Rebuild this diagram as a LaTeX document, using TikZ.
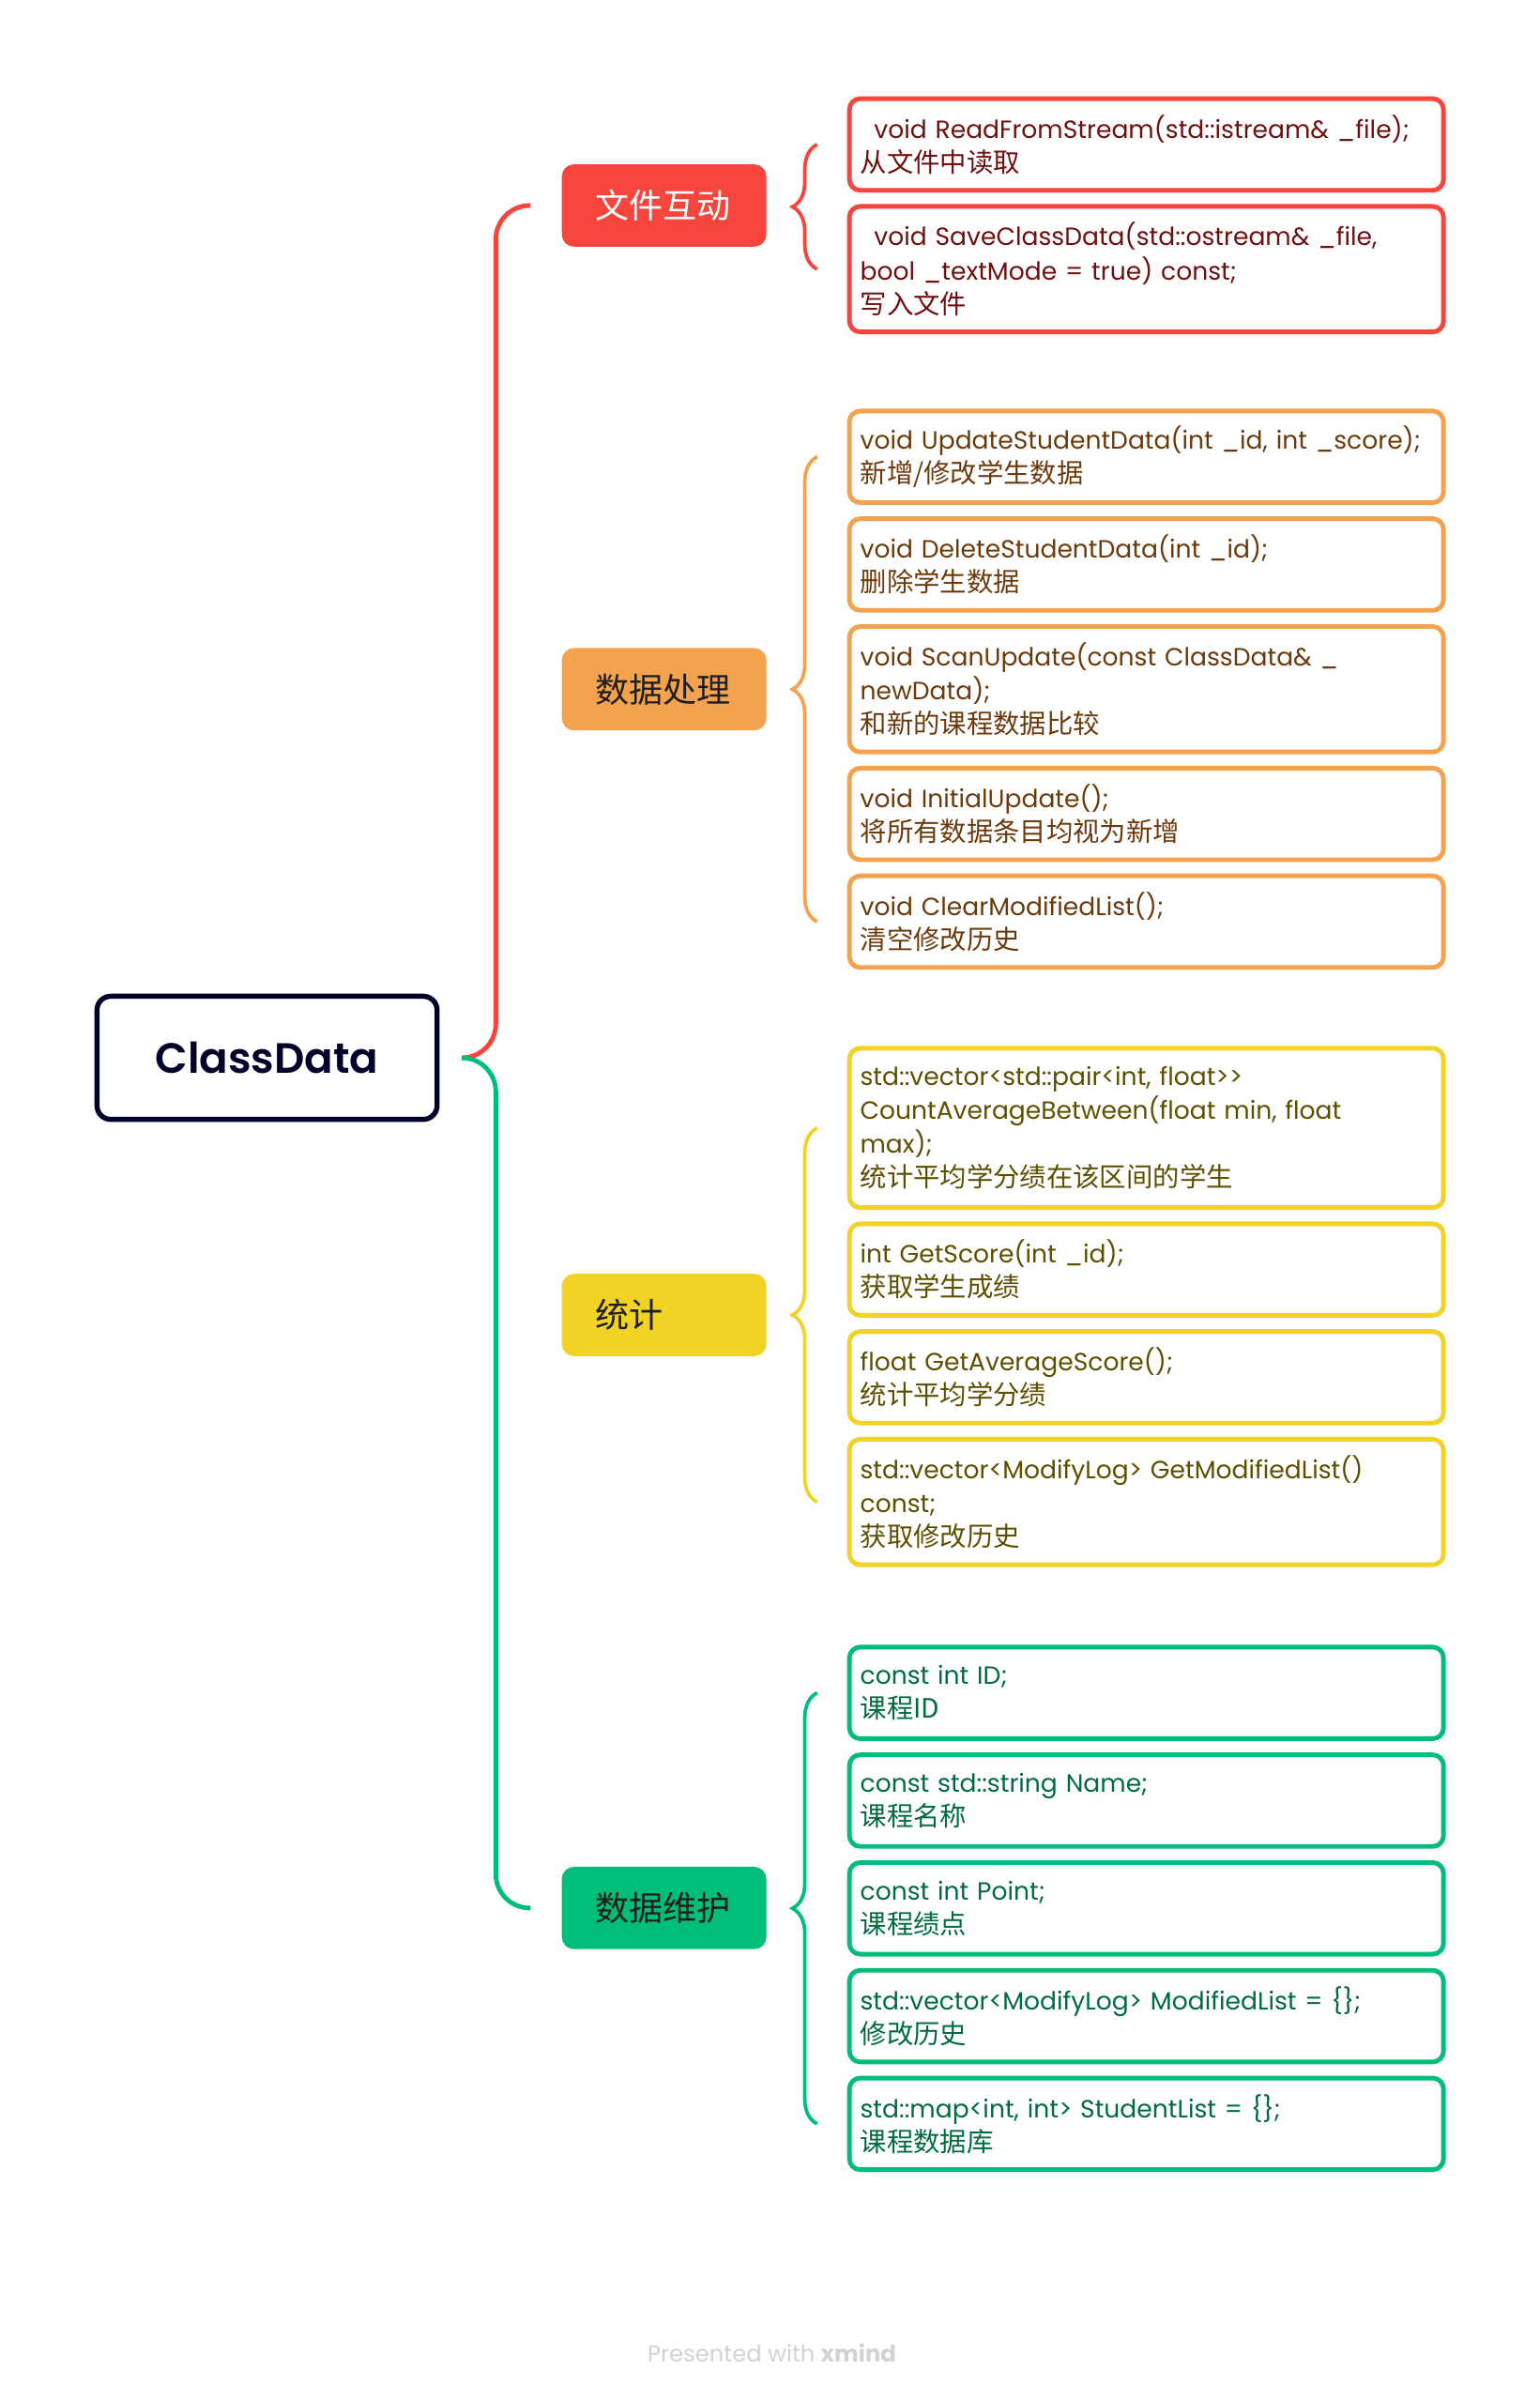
\documentclass[tikz,border=0pt]{standalone}
\usepackage{fontspec}
\setmainfont{Poppins}
\newfontfamily\cjk{Noto Sans CJK SC}
\newfontfamily\titlefont{Poppins SemiBold}
\usetikzlibrary{positioning}
\usetikzlibrary{decorations.pathreplacing}

\definecolor{cRed}{HTML}{F5453D}
\definecolor{cRedTxt}{HTML}{6E1010}
\definecolor{cOrange}{HTML}{F5A24E}
\definecolor{cOrangeTxt}{HTML}{6B3A0C}
\definecolor{cYellow}{HTML}{F2D325}
\definecolor{cYellowTxt}{HTML}{5E4F00}
\definecolor{cGreen}{HTML}{00BD79}
\definecolor{cGreenTxt}{HTML}{006A40}
\definecolor{cNavy}{HTML}{000229}
\definecolor{cFoot}{HTML}{D2D2D2}

\newcommand\zh[1]{{\cjk\fontsize{17.3}{22}\selectfont #1}}

\tikzset{
  root/.style={draw=cNavy, line width=3.3pt, rounded corners=9pt, fill=white,
    minimum width=221pt, minimum height=80pt, text=cNavy,
    font=\titlefont\fontsize{27.5}{32}\selectfont},
  topic/.style={rounded corners=8pt, minimum width=133pt, minimum height=53.5pt,
    inner xsep=22pt, text width=89pt, align=left,
    font=\cjk\fontsize{22}{26}\selectfont},
  leaf/.style={draw, line width=3pt, rounded corners=7pt, fill=white,
    minimum width=386pt, text width=372pt, inner xsep=7pt, inner ysep=0pt,
    align=left, minimum height=59.5pt, font=\fontsize{16.2}{22}\selectfont},
  tall/.style={minimum height=81.5pt},
  taller/.style={minimum height=103.5pt},
  redleaf/.style={leaf, draw=cRed, text=cRedTxt},
  orangeleaf/.style={leaf, draw=cOrange, text=cOrangeTxt},
  yellowleaf/.style={leaf, draw=cYellow, text=cYellowTxt},
  greenleaf/.style={leaf, draw=cGreen, text=cGreenTxt},
  branch/.style={line width=3pt, rounded corners=22pt, shorten <=14.75pt, shorten >=20pt},
  bracket/.style={line width=2.3pt, decorate, decoration={brace, amplitude=16pt}},
}

\begin{document}
\begin{tikzpicture}[x=1pt,y=1pt,yscale=-1,node distance=7.5pt]
\fill[white] (0,0) rectangle (1000,1558.5);
\useasboundingbox (0,0) rectangle (1000,1558.5);

% Root
\node[root] (classdata) at (173.5,687.2) {ClassData};

% Topics
\node[topic, fill=cRed, text=white] (io) at (431.5,133.5) {文件互动};
\node[topic, fill=cOrange, text=black!88] (proc) at (431.5,447.75) {数据处理};
\node[topic, fill=cYellow, text=black!88] (stat) at (431.5,854.25) {统计};
\node[topic, fill=cGreen, text=black!88] (keep) at (431.5,1239.5) {数据维护};

%Straight Lines
\draw[branch, cRed] (classdata.east) -- ++(36.5,0) |- (io.west);
\draw[branch, cGreen] (classdata.east) -- ++(36.5,0) |- (keep.west);

% Text Node
\node[redleaf, anchor=north west] (io1) at (550.4,62.6)
  {\hspace*{9pt}void ReadFromStream(std::istream\& \_file);\\ \zh{从文件中读取}};
\node[redleaf, tall, below=of io1] (io2)
  {\hspace*{9pt}void SaveClassData(std::ostream\& \_file,\\ bool \_textMode = true) const;\\ \zh{写入文件}};

% Text Node
\node[orangeleaf, anchor=north west] (proc1) at (550.4,265.5)
  {void UpdateStudentData(int \_id, int \_score);\\ \zh{新增/修改学生数据}};
\node[orangeleaf, below=of proc1] (proc2)
  {void DeleteStudentData(int \_id);\\ \zh{删除学生数据}};
\node[orangeleaf, tall, below=of proc2] (proc3)
  {void ScanUpdate(const ClassData\& \_\\ newData);\\ \zh{和新的课程数据比较}};
\node[orangeleaf, below=of proc3] (proc4)
  {void InitialUpdate();\\ \zh{将所有数据条目均视为新增}};
\node[orangeleaf, below=of proc4] (proc5)
  {void ClearModifiedList();\\ \zh{清空修改历史}};

% Text Node
\node[yellowleaf, taller, anchor=north west] (stat1) at (550.4,679.5)
  {std::vector<std::pair<int, float>\kern0pt>\\ CountAverageBetween(float min, float\\ max);\\ \zh{统计平均学分绩在该区间的学生}};
\node[yellowleaf, below=of stat1] (stat2)
  {int GetScore(int \_id);\\ \zh{获取学生成绩}};
\node[yellowleaf, below=of stat2] (stat3)
  {float GetAverageScore();\\ \zh{统计平均学分绩}};
\node[yellowleaf, tall, below=of stat3] (stat4)
  {std::vector<ModifyLog> GetModifiedList()\\ const;\\ \zh{获取修改历史}};

% Text Node
\node[greenleaf, anchor=north west] (keep1) at (550.4,1068.5)
  {const int ID;\\ \zh{课程ID}};
\node[greenleaf, below=of keep1] (keep2)
  {const std::string Name;\\ \zh{课程名称}};
\node[greenleaf, below=of keep2] (keep3)
  {const int Point;\\ \zh{课程绩点}};
\node[greenleaf, below=of keep3] (keep4)
  {std::vector<ModifyLog> ModifiedList = \{\};\\ \zh{修改历史}};
\node[greenleaf, below=of keep4] (keep5)
  {std::map<int, int> StudentList = \{\};\\ \zh{课程数据库}};

% Braces
\draw[bracket, cRed] ([xshift=-19.5pt]io2.west) -- ([xshift=-19.5pt]io1.west);
\draw[bracket, cOrange] ([xshift=-19.5pt]proc5.west) -- ([xshift=-19.5pt]proc1.west);
\draw[bracket, cYellow] ([xshift=-19.5pt]stat4.west) -- ([xshift=-19.5pt]stat1.west);
\draw[bracket, cGreen] ([xshift=-19.5pt]keep5.west) -- ([xshift=-19.5pt]keep1.west);

% Footer
\node[text=cFoot, font=\fontsize{14.8}{18}\selectfont] (foot) at (501.5,1528.6)
  {Presented with \textbf{xmind}};

\end{tikzpicture}
\end{document}
